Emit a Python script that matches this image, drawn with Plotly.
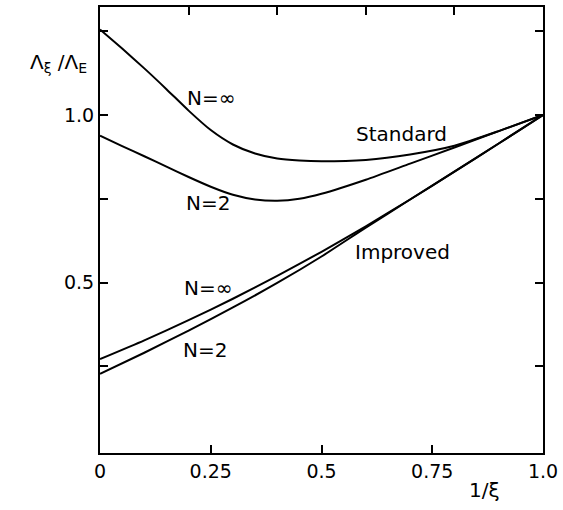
import plotly.graph_objects as go

# inverse xi
x_std = [0.0, 0.05, 0.1, 0.15, 0.2, 0.25, 0.3, 0.35, 0.4, 0.45, 0.5, 0.6, 0.7, 0.8, 0.9, 1.0]
std_inf = [1.255, 1.198, 1.139, 1.077, 1.013, 0.955, 0.912, 0.885, 0.870, 0.864, 0.862,
           0.866, 0.882, 0.908, 0.952, 1.0]
std_n2 = [0.938, 0.907, 0.877, 0.846, 0.815, 0.786, 0.762, 0.748, 0.744, 0.750, 0.765,
          0.807, 0.855, 0.903, 0.952, 1.0]

x_imp = [0.0, 0.1, 0.2, 0.3, 0.4, 0.5, 0.6, 0.7, 0.8, 0.9, 1.0]
imp_inf = [0.272, 0.328, 0.388, 0.452, 0.520, 0.592, 0.668, 0.748, 0.831, 0.915, 1.0]
imp_n2 = [0.228, 0.291, 0.357, 0.426, 0.499, 0.578, 0.664, 0.748, 0.831, 0.915, 1.0]

x_tick_vals = [0, 0.25, 0.5, 0.75, 1.0]
x_tick_text = ["0", "0.25", "0.5", "0.75", "1.0"]
y_tick_vals = [0.5, 1.0]
y_tick_text = ["0.5", "1.0"]
y_minor_vals = [0.25, 0.75, 1.25]
top_tick_vals = [0.2, 0.4, 0.6, 0.8]

labels = [
    ("N=∞", 0.25, 1.05),
    ("N=2", 0.243, 0.738),
    ("Standard", 0.68, 0.943),
    ("Improved", 0.683, 0.59),
    ("N=∞", 0.244, 0.485),
    ("N=2", 0.237, 0.298),
]

FONT = "DejaVu Sans"
fig = go.Figure()
for xs, ys in ((x_std, std_inf), (x_std, std_n2), (x_imp, imp_inf), (x_imp, imp_n2)):
    fig.add_trace(go.Scatter(x=xs, y=ys, mode="lines",
                             line=dict(color="black", width=2, shape="spline", smoothing=0.6),
                             showlegend=False, hoverinfo="skip"))
# invisible trace to hold the top axis
fig.add_trace(go.Scatter(x=[0, 1], y=[None, None], xaxis="x2", yaxis="y",
                         mode="lines", showlegend=False, hoverinfo="skip"))

for txt, lx, ly in labels:
    fig.add_annotation(x=lx, y=ly, text=txt, showarrow=False,
                       xanchor="center", yanchor="middle",
                       font=dict(family=FONT, size=20, color="black"))

fig.add_annotation(xref="paper", yref="paper", x=-0.025, y=0.874,
                   xanchor="right", yanchor="middle",
                   text="Λ<sub>ξ</sub> /Λ<sub>E</sub>", showarrow=False,
                   font=dict(family=FONT, size=20, color="black"))
fig.add_annotation(xref="paper", yref="paper", x=0.867, y=-0.083,
                   xanchor="center", yanchor="middle",
                   text="1/ξ", showarrow=False,
                   font=dict(family=FONT, size=20, color="black"))

fig.update_layout(
    width=563, height=510,
    margin=dict(l=100, r=19, t=5, b=57),
    paper_bgcolor="white", plot_bgcolor="white",
    hovermode=False,
    xaxis=dict(range=[0, 1], tickvals=x_tick_vals, ticktext=x_tick_text,
               ticks="inside", ticklen=8, tickwidth=1.5, tickcolor="black",
               showline=True, linecolor="black", linewidth=2, mirror=True,
               showgrid=False, zeroline=False,
               tickfont=dict(family=FONT, size=19, color="black")),
    xaxis2=dict(range=[0, 1], overlaying="x", side="top", tickvals=top_tick_vals,
                ticks="inside", ticklen=8, tickwidth=1.5, tickcolor="black",
                showticklabels=False, showgrid=False, zeroline=False, showline=False),
    yaxis=dict(range=[-0.008, 1.322], tickvals=y_tick_vals, ticktext=y_tick_text,
               ticks="inside", ticklen=8, tickwidth=1.5, tickcolor="black",
               minor=dict(tickvals=y_minor_vals, ticks="inside", ticklen=8,
                          tickwidth=1.5, tickcolor="black", showgrid=False),
               showline=True, linecolor="black", linewidth=2, mirror="ticks",
               showgrid=False, zeroline=False,
               tickfont=dict(family=FONT, size=19, color="black")),
)

fig.write_html("out.html", config={"displayModeBar": False},
               post_script="document.body.style.margin='0';document.body.style.overflow='hidden';")
